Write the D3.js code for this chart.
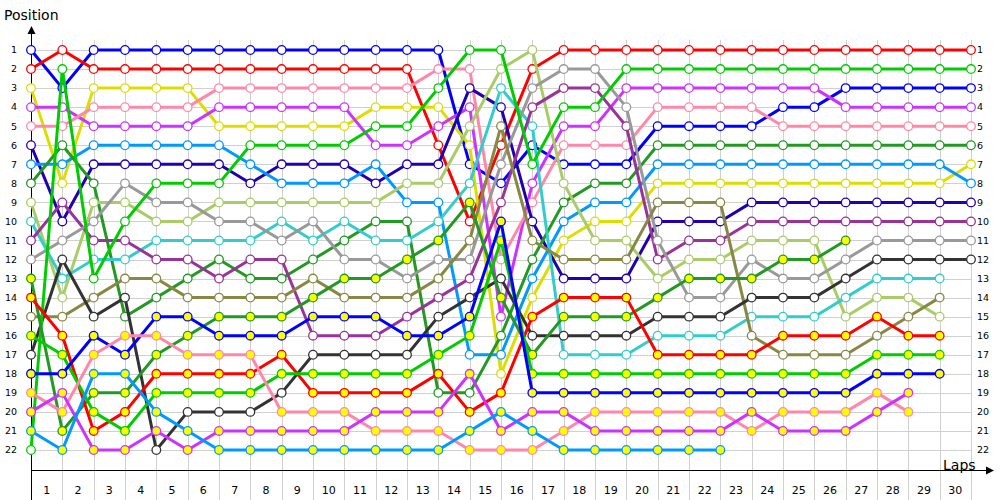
<!DOCTYPE html>
<html><head><meta charset="utf-8">
<script src="https://cdn.jsdelivr.net/npm/d3@7"></script>
<style>body{margin:0;background:#fff;} text{font-family:"DejaVu Sans",sans-serif;}</style>
</head><body><svg id="c" width="1000" height="500"></svg>
<script>
// ---- data ----
const laps = d3.range(0, 31);            // lap 0 = grid
const lapLabels = d3.range(1, 31);
const positionTicks = d3.range(1, 23);

const blueW      = [1,3,1,1,1,1,1,1,1,1,1,1,1,1,7,8,6,7,7,7,5,5,5,5,4,4,3,3,3,3,3];
const redW       = [2,1,2,2,2,2,2,2,2,2,2,2,2,6,10,6,2,1,1,1,1,1,1,1,1,1,1,1,1,1,1];
const yellowW    = [3,8,3,3,3,3,5,5,5,5,5,4,4,4,6,18,14,11,10,10,8,8,8,8,8,8,8,8,8,8,7];
const magentaW   = [4,4,5,5,5,5,4,4,4,4,4,6,6,5,4,15,8,5,5,3,3,3,3,3,3,3,4,4,4,4,4];
const pinkW      = [5,5,4,4,4,4,3,3,3,3,3,3,3,2,2,12,9,6,6,6,4,4,4,4,5,5,5,5,5,5,5];
const navyW      = [6,10,7,7,7,7,7,8,7,7,7,8,7,7,3,4,10,13,13,13,10,10,10,9,9,9,9,9,9,9,9];
const lightblueW = [7,7,6,6,6,6,6,7,8,8,8,7,9,9,17,17,13,10,9,9,7,7,7,7,7,7,7,7,7,7,8];
const darkgreenW = [8,6,8,15,14,13,12,13,13,12,11,10,10,19,19,16,12,9,8,8,6,6,6,6,6,6,6,6,6,6,6];
const lightgreenW= [9,14,9,9,10,10,9,9,9,9,9,9,8,8,5,2,1,8,11,11,13,12,12,11,11,11,15,14,14,15,null];
const cyanW      = [10,13,12,12,11,11,11,11,10,11,10,11,11,10,8,3,5,17,17,17,16,16,16,15,15,15,14,13,13,13,null];
const purpleW    = [11,9,11,11,12,12,13,12,12,16,16,16,15,14,13,9,4,3,3,5,12,11,11,10,10,10,10,10,10,10,10];
const grayW      = [12,11,10,8,9,9,10,10,11,10,12,12,13,12,12,7,3,2,2,4,11,14,14,12,13,13,12,11,11,11,11];
const oliveW     = [15,15,14,13,13,14,14,14,14,13,14,14,14,13,11,5,11,12,12,12,9,9,9,16,17,17,17,16,15,14,null];
const darkgrayW  = [17,12,15,14,22,20,20,20,19,17,17,17,17,15,14,13,16,16,16,16,15,15,15,14,14,14,13,12,12,12,12];
const greenW     = [22,2,13,10,8,8,8,6,6,6,6,5,5,3,1,1,7,4,4,2,2,2,2,2,2,2,2,2,2,2,2];
const darkgreenY = [13,21,19,19,17,16,15,15,15,14,13,13,12,11,9,14,17,15,15,15,14,13,13,13,12,12,11,null,null,null,null];
const redY       = [14,16,21,20,18,18,18,18,17,19,19,19,19,18,20,19,15,14,14,14,17,17,17,17,16,16,16,15,16,16,null];
const greenY     = [16,17,20,21,19,19,19,19,18,18,18,18,18,17,16,11,18,18,18,18,18,18,18,18,18,18,18,17,17,17,null];
const blueY      = [18,18,16,17,15,15,16,16,16,15,15,15,16,16,15,10,19,19,19,19,19,19,19,19,19,19,19,18,18,18,null];
const pinkY      = [19,20,17,16,16,17,17,17,20,20,20,21,21,21,22,22,22,21,20,20,20,20,20,21,20,20,20,19,20,null,null];
const magentaY   = [20,19,22,22,21,22,21,21,21,21,21,20,20,20,18,21,20,20,21,21,21,21,21,20,21,21,21,20,19,null,null];
const lightblueY = [21,22,18,18,20,21,22,22,22,22,22,22,22,22,21,20,21,22,22,22,22,22,22,null,null,null,null,null,null,null,null];

const seriesData   = [blueW, redW, yellowW, magentaW, pinkW, navyW, lightblueW, darkgreenW, lightgreenW, cyanW, purpleW, grayW, oliveW, darkgrayW, greenW,
                      darkgreenY, redY, greenY, blueY, pinkY, magentaY, lightblueY];
const seriesColors = ["#0000ff","#ff0000","#dddd00","#cc33ff","#ff88aa","#2200b0","#0099ff","#229922","#aacc66","#33cccc","#993399","#999999","#888844","#333333","#00cc00",
                      "#229922","#ff0000","#00cc00","#0000ff","#ff88aa","#cc33ff","#0099ff"];
const seriesFills  = ["#ffffff","#ffffff","#ffffff","#ffffff","#ffffff","#ffffff","#ffffff","#ffffff","#ffffff","#ffffff","#ffffff","#ffffff","#ffffff","#ffffff","#ffffff",
                      "#ffff00","#ffff00","#ffff00","#ffff00","#ffff00","#ffff00","#ffff00"];

// ---- chart ----
const svg = d3.select("#c");
const x = d3.scaleLinear().domain([0, 30]).range([31, 971]);
const y = d3.scaleLinear().domain([1, 22]).range([50, 450]);

const grid = svg.append("g").attr("stroke", "#d0d0d0").attr("stroke-width", 1);
grid.selectAll("line.v").data(laps).join("line")
  .attr("x1", d => Math.round(x(d)) + 0.5).attr("x2", d => Math.round(x(d)) + 0.5)
  .attr("y1", 40).attr("y2", 500);
grid.selectAll("line.h").data(positionTicks).join("line")
  .attr("x1", 31).attr("x2", 971)
  .attr("y1", d => Math.round(y(d)) + 0.5).attr("y2", d => Math.round(y(d)) + 0.5);

// axes
const ax = svg.append("g").attr("stroke", "#000").attr("stroke-width", 1);
ax.append("line").attr("x1", 31.5).attr("x2", 31.5).attr("y1", 28).attr("y2", 500);
ax.append("line").attr("x1", 31).attr("x2", 992).attr("y1", 470.5).attr("y2", 470.5);
svg.append("path").attr("d", "M27.5,34 L31.5,26 L35.5,34 Z").attr("fill", "#000");
svg.append("path").attr("d", "M986,466.5 L994,470.5 L986,474.5 Z").attr("fill", "#000");

svg.append("text").attr("x", 4).attr("y", 20).attr("font-size", 14).text("Position");
svg.append("text").attr("x", 943).attr("y", 470).attr("font-size", 14).text("Laps");

const lblL = svg.append("g").attr("font-size", 9.5).attr("fill", "#000");
lblL.selectAll("text").data(positionTicks).join("text")
  .attr("x", 17).attr("y", d => y(d)).attr("dy", "0.35em").attr("text-anchor", "end").text(d => d);
const lblR = svg.append("g").attr("font-size", 9.5).attr("fill", "#000");
lblR.selectAll("text").data(positionTicks).join("text")
  .attr("x", 977).attr("y", d => y(d)).attr("dy", "0.35em").attr("text-anchor", "start").text(d => d);
const lblB = svg.append("g").attr("font-size", 11).attr("fill", "#000");
lblB.selectAll("text").data(lapLabels).join("text")
  .attr("x", d => x(d - 0.5)).attr("y", 494).attr("text-anchor", "middle").text(d => d);

const line = d3.line().defined(d => d != null).x((d, i) => x(i)).y(d => y(d));

seriesData.forEach((s, k) => {
  const g = svg.append("g");
  g.append("path").attr("d", line(s)).attr("fill", "none")
    .attr("stroke", seriesColors[k]).attr("stroke-width", 3).attr("stroke-linejoin", "round");
  g.selectAll("circle").data(s.map((v, i) => [i, v]).filter(d => d[1] != null)).join("circle")
    .attr("cx", d => x(d[0])).attr("cy", d => y(d[1])).attr("r", 4.3)
    .attr("fill", seriesFills[k]).attr("stroke", seriesColors[k]).attr("stroke-width", 1.3);
});
</script></body></html>
